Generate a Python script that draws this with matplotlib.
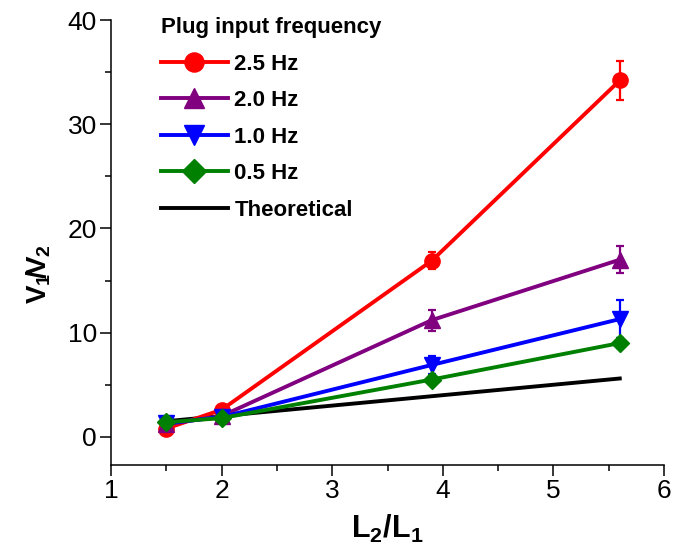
import numpy as np
import matplotlib.pyplot as plt
from matplotlib.ticker import MultipleLocator

plt.rcParams['font.family'] = ['Liberation Sans', 'DejaVu Sans']
plt.rcParams['mathtext.fontset'] = 'custom'
plt.rcParams['mathtext.rm'] = 'Liberation Sans'
plt.rcParams['mathtext.bf'] = 'Liberation Sans:bold'

# L2/L1 ratios
ratio = [1.5, 2.0, 3.9, 5.6]

# V1/V2 for each plug input frequency
hz25 = [0.8, 2.6, 16.9, 34.2]
hz25_err = [0.3, 0.3, 0.8, 1.9]
hz20 = [1.2, 2.0, 11.2, 17.0]
hz20_err = [0.3, 0.3, 1.0, 1.3]
hz10 = [1.3, 1.9, 6.9, 11.3]
hz10_err = [0.3, 0.3, 0.9, 1.8]
hz05 = [1.4, 1.8, 5.5, 9.0]
hz05_err = [0.2, 0.2, 0.4, 0.5]
theory = [1.5, 2.0, 3.9, 5.6]

fig = plt.figure(figsize=(6.78, 5.57), dpi=100)
ax = fig.add_axes([111 / 678, 92 / 557, 553 / 678, 445 / 557])

series = [
    (hz25, hz25_err, 'red', 'o', 11, '2.5 Hz'),
    (hz20, hz20_err, 'purple', '^', 11, '2.0 Hz'),
    (hz10, hz10_err, 'blue', 'v', 11, '1.0 Hz'),
    (hz05, hz05_err, 'green', 'D', 9.5, '0.5 Hz'),
]

handles = []
for vals, err, col, mk, ms, lab in series:
    ax.errorbar(ratio, vals, yerr=err, fmt='none', ecolor=col, capsize=3,
                elinewidth=1.6, capthick=1.6, zorder=3)
    h, = ax.plot(ratio, vals, color=col, marker=mk, markersize=ms, lw=2.8,
                 label=lab, zorder=4)
    handles.append(h)
h, = ax.plot(ratio, theory, color='black', lw=2.8, label='Theoretical', zorder=2)
handles.append(h)

ax.set_xlim(1, 6)
ax.set_ylim(-2.7, 40)
ax.xaxis.set_major_locator(MultipleLocator(1))
ax.xaxis.set_minor_locator(MultipleLocator(0.5))
ax.yaxis.set_major_locator(MultipleLocator(10))
ax.yaxis.set_minor_locator(MultipleLocator(5))
ax.tick_params(which='both', direction='out', width=1.1, labelsize=19)
ax.tick_params(which='major', length=8, pad=2)
ax.tick_params(which='minor', length=4)
ax.spines['top'].set_visible(False)
ax.spines['right'].set_visible(False)
ax.spines['left'].set_linewidth(1.1)
ax.spines['bottom'].set_linewidth(1.1)

ax.set_xlabel(r'$\mathbf{L_2/L_1}$', fontsize=22, labelpad=7)
ax.set_ylabel(r'$\mathbf{V_1\!/\!V_2}$', fontsize=20)
ax.yaxis.set_label_coords(-0.105, 0.43)

leg = fig.legend(handles=handles, loc='upper left',
                 bbox_to_anchor=(161 / 678, 1 - 17 / 557),
                 title='Plug input frequency', frameon=False,
                 prop={'weight': 'bold', 'size': 16}, handlelength=3.0,
                 handletextpad=0.3, labelspacing=0.7, borderaxespad=0,
                 borderpad=0, markerscale=1.25, alignment='left')
leg.get_title().set_fontweight('bold')
leg.get_title().set_fontsize(16)

fig.savefig('out.png', dpi=100)
